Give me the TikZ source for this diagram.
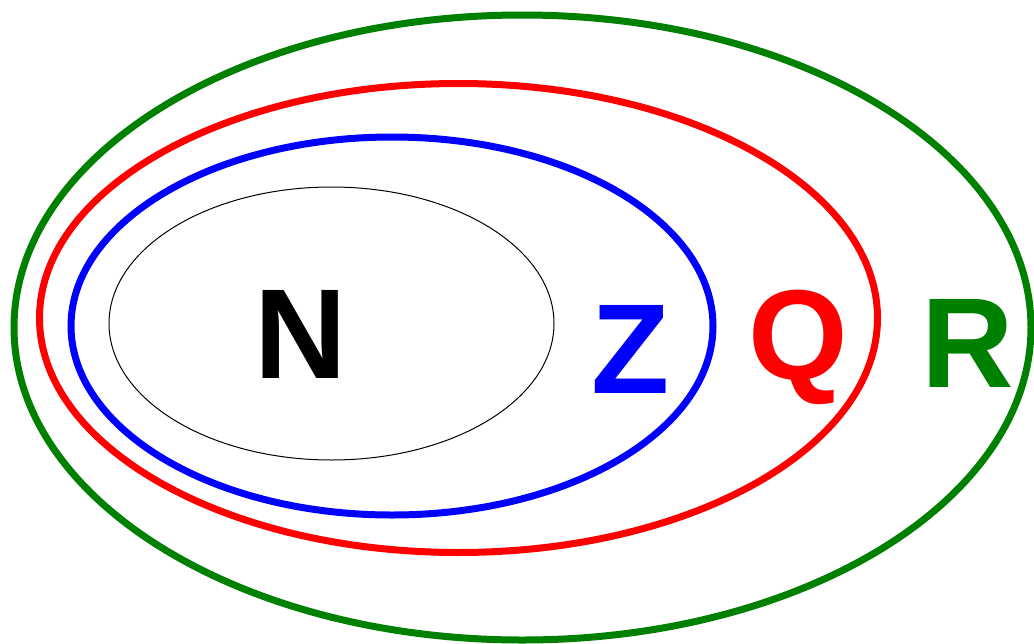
\documentclass[tikz,border=0pt]{standalone}
\usepackage{fontspec}
\setmainfont{Liberation Sans}
\definecolor{ggreen}{RGB}{0,128,0}
\begin{document}
\begin{tikzpicture}[x=1pt,y=-1pt,
  setring/.style={line width=7pt},
  setlabel/.style={font=\fontsize{128}{128}\selectfont\bfseries, anchor=base, inner sep=0pt}]
\useasboundingbox (0,0) rectangle (1034,643);
\draw[setring, ggreen] (522.5,327.5) ellipse [x radius=508.5, y radius=312.5];
\draw[setring, red] (458.5,318) ellipse [x radius=419, y radius=234.5];
\draw[setring, blue] (392,326) ellipse [x radius=321, y radius=189];
\draw[line width=1pt, black] (331.5,323.5) ellipse [x radius=222.5, y radius=136.5];
\node[setlabel, black] (N) at (300.5,378) {N};
\node[setlabel, blue] (Z) at (631,393) {Z};
\node[setlabel, red] (Q) at (798,379) {Q};
\node[setlabel, ggreen] (R) at (968,387) {R};
\end{tikzpicture}
\end{document}
